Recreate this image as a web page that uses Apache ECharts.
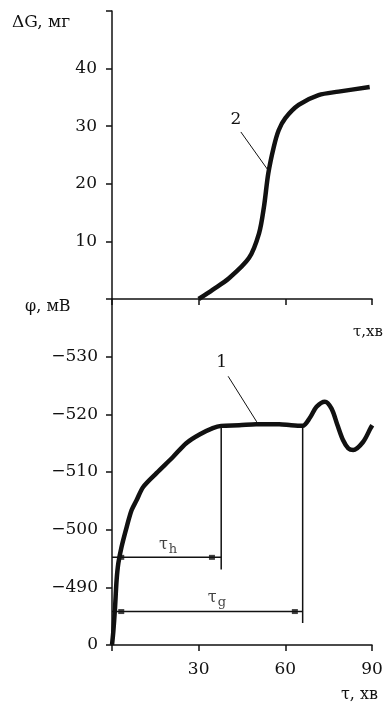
<!DOCTYPE html>
<html>
<head>
<meta charset="utf-8">
<script src="https://cdn.jsdelivr.net/npm/echarts@6/dist/echarts.min.js"></script>
<style>
html,body{margin:0;padding:0;background:#fff;}
#c{width:388px;height:706px;}
</style>
</head>
<body>
<div id="c"></div>
<script>
// ---- data ----
var xTicks = [0, 30, 60, 90];
var massTicks = [0, 10, 20, 30, 40, 50];
var potTicks = [-540, -530, -520, -510, -500, -490, -480];

// curve 2: mass gain ΔG (мг) vs time τ (хв)
var curve2 = [[30,0],[34.8,1.6],[40.5,3.6],[47.4,7.1],[50.9,11.4],[52.6,16],[54.1,21.8],[56,26.4],[57.7,29.3],[60,31.4],[64.6,33.7],[71.5,35.4],[78.4,36],[89.2,36.8]];

// curve 1: potential φ (мВ) vs time τ (хв)
var curve1 = [[0,-480],[0.45,-482.3],[1.0,-486.1],[1.6,-491.3],[2.2,-494.2],[3.3,-497],[5.1,-500.5],[6.8,-503.4],[8.5,-505.1],[10.8,-507.4],[15.4,-509.8],[21.1,-512.6],[25.7,-515],[30.3,-516.5],[34.9,-517.6],[37.8,-518],[44,-518.1],[49.9,-518.3],[57.9,-518.3],[62,-518.1],[66,-518],[68.5,-519.4],[70.8,-521.3],[73.7,-522.2],[76,-521.0],[78,-518.2],[80,-515.5],[81.8,-514.1],[83.5,-513.8],[86.9,-515.2],[89.5,-517.6],[90.1,-518.1]];

// time marks
var tauH = 37.8, tauHLevel = -495.2, tauHBottom = -493.1;
var tauG = 66, tauGLevel = -485.8, tauGBottom = -483.8;
var plateau = -518;
var arrowH = [[3.2, tauHLevel], [34.6, tauHLevel]];
var arrowG = [[3.2, tauGLevel], [63.3, tauGLevel]];

// labels
var label2Pos = [42.9, 31.1], leader2 = [[44.6, 29.0], [54.4, 22.1]];
var label1Pos = [38, -528.9], leader1 = [[40.2, -526.6], [50.1, -518.7]];
var tauHLabelPos = [19.4, -497.0], tauGLabelPos = [36.3, -487.8];

var FONT = 'DejaVu Serif';
var INK = '#111';

var chart = echarts.init(document.getElementById('c'), null, {renderer:'canvas'});

function lineSeries(data, xi, w, extra) {
  var s = {type:'line', xAxisIndex:xi, yAxisIndex:xi, data:data, symbol:'none',
    lineStyle:{color:INK, width:w}, itemStyle:{color:INK}, silent:true, animation:false, z:3};
  for (var k in extra) s[k] = extra[k];
  return s;
}

var axisLine = {lineStyle:{color:INK, width:1.5}};
var axisTick = {length:6, lineStyle:{color:INK, width:1.5}};

function textLabel(txt, size) {
  return {show:true, position:'inside', formatter:txt, fontFamily:FONT, fontSize:size,
    color:INK, textBorderWidth:0, opacity:1};
}

var option = {
  animation:false,
  grid:[
    {left:112, top:11, width:260, height:288},
    {left:112, top:299, width:260, height:346}
  ],
  xAxis:[
    {type:'value', gridIndex:0, min:xTicks[0], max:xTicks[xTicks.length-1], interval:30,
     axisLine:axisLine, axisTick:axisTick, axisLabel:{show:false}, splitLine:{show:false}},
    {type:'value', gridIndex:1, min:xTicks[0], max:xTicks[xTicks.length-1], interval:30,
     axisLine:axisLine, axisTick:axisTick,
     axisLabel:{margin:16, fontFamily:FONT, fontSize:17, color:INK,
       formatter:function(v){return v===0?'':String(v);}},
     splitLine:{show:false}}
  ],
  yAxis:[
    {type:'value', gridIndex:0, min:massTicks[0], max:massTicks[massTicks.length-1], interval:10,
     axisLine:axisLine, axisTick:axisTick,
     axisLabel:{margin:15, fontFamily:FONT, fontSize:17, color:INK,
       formatter:function(v){return (v===0||v===50)?'':String(v);}},
     splitLine:{show:false}},
    {type:'value', gridIndex:1, min:potTicks[0], max:potTicks[potTicks.length-1], interval:10, inverse:true,
     axisLine:axisLine, axisTick:axisTick,
     axisLabel:{margin:14, fontFamily:FONT, fontSize:17, color:INK,
       formatter:function(v){ if(v===-540) return ''; if(v===-480) return '0'; return '\u2212'+Math.abs(v);}},
     splitLine:{show:false}}
  ],
  graphic:[
    {type:'text', left:12, top:14, style:{text:'\u0394G, мг', font:'17px "DejaVu Serif"', fill:INK}},
    {type:'text', left:25, top:299, style:{text:'\u03C6, мВ', font:'16px "DejaVu Serif"', fill:INK}},
    {type:'text', right:5, top:325, style:{text:'\u03C4,хв', font:'15px "DejaVu Serif"', fill:INK}},
    {type:'text', right:10, top:687, style:{text:'\u03C4, хв', font:'16px "DejaVu Serif"', fill:INK}}
  ],
  series:[
    lineSeries(curve2, 0, 4.5, {smooth:0.3}),
    lineSeries(curve1, 1, 4.5, {smooth:0.3}),
    // leader lines
    lineSeries(leader2, 0, 1),
    lineSeries(leader1, 1, 1),
    // tau_h / tau_g construction
    lineSeries([[0, tauHLevel],[tauH, tauHLevel]], 1, 1.5),
    lineSeries([[tauH, plateau],[tauH, tauHBottom]], 1, 1.5),
    lineSeries([[0, tauGLevel],[tauG, tauGLevel]], 1, 1.5),
    lineSeries([[tauG, plateau],[tauG, tauGBottom]], 1, 1.5),
    {type:'scatter', xAxisIndex:1, yAxisIndex:1, data:arrowH.concat(arrowG), symbol:'rect', symbolSize:[6,5],
     itemStyle:{color:INK}, silent:true, z:4},
    // text labels anchored in data coordinates
    {type:'scatter', xAxisIndex:0, yAxisIndex:0, data:[label2Pos], symbolSize:1, silent:true,
     itemStyle:{color:'rgba(0,0,0,0)'}, label:textLabel('2', 17)},
    {type:'scatter', xAxisIndex:1, yAxisIndex:1, data:[label1Pos], symbolSize:1, silent:true,
     itemStyle:{color:'rgba(0,0,0,0)'}, label:textLabel('1', 17)},
    {type:'scatter', xAxisIndex:1, yAxisIndex:1, data:[tauHLabelPos, tauGLabelPos], symbolSize:1, silent:true,
     itemStyle:{color:'rgba(0,0,0,0)'},
     label:{show:true, position:'inside', color:INK, textBorderWidth:0,
       formatter:function(p){ return p.dataIndex===0 ? '{t|\u03C4}{s|h}' : '{t|\u03C4}{s|g}'; },
       rich:{t:{fontFamily:FONT, fontSize:16, color:INK, padding:[0,0,4,0]},
             s:{fontFamily:FONT, fontSize:13, color:INK, padding:[6,0,0,1]}}}}
  ]
};
chart.setOption(option);
</script>
</body>
</html>
